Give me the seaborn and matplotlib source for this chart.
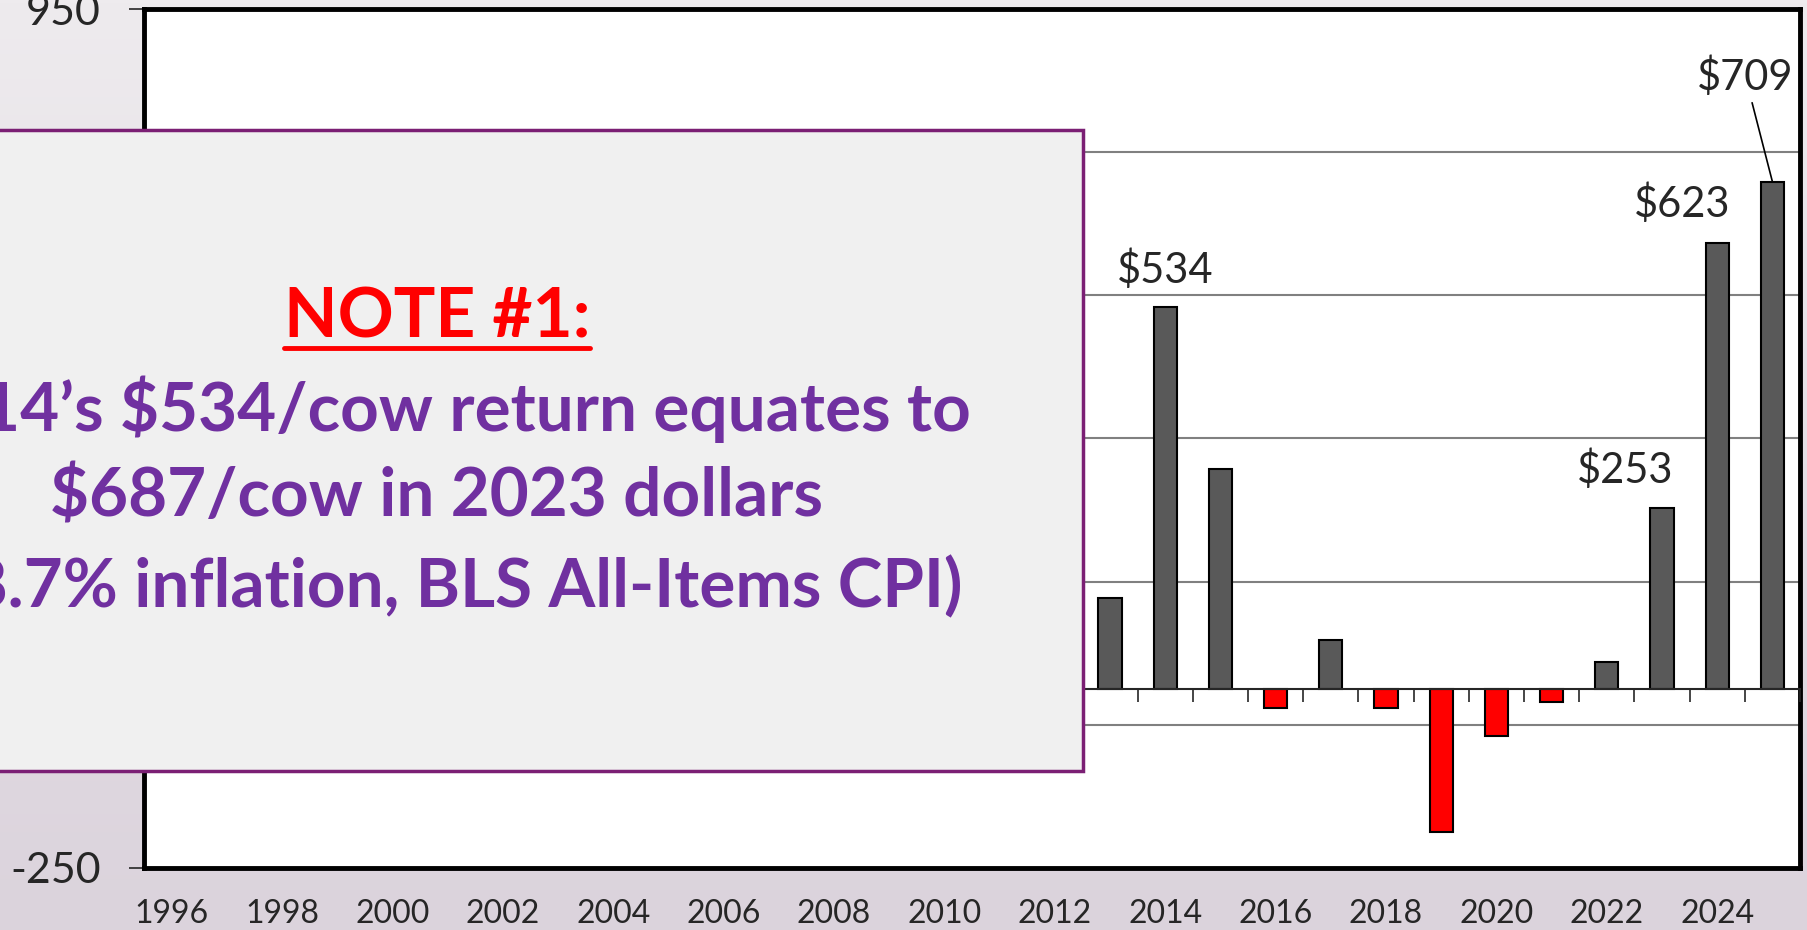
import numpy as np
import pandas as pd
import matplotlib
matplotlib.use("Agg")
import matplotlib.pyplot as plt
import seaborn as sns
from matplotlib.patches import Rectangle
from matplotlib.lines import Line2D
from matplotlib.colors import LinearSegmentedColormap

# categories on the x axis (bars before 2013 sit behind the note box)
years = list(range(1996, 2026))
shown_years = [2013, 2014, 2015, 2016, 2017, 2018, 2019, 2020, 2021, 2022, 2023, 2024, 2025]
returns = [127, 534, 307, -26, 69, -27, -200, -65, -18, 38, 253, 623, 709]
labelled_years = [2014, 2023, 2024, 2025]
y_ticks = [-250, -50, 150, 350, 550, 750, 950]

note_title = "NOTE #1:"
note_lines = ["2014\u2019s $534/cow return equates to",
              "$687/cow in 2023 dollars",
              "(28.7% inflation, BLS All-Items CPI)"]

sns.set_style("white")
plt.rcParams['font.family'] = ['Lato', 'DejaVu Sans']

fig = plt.figure(figsize=(18.07, 9.30), dpi=100)

# soft lavender-grey background
bg = fig.add_axes([0, 0, 1, 1], zorder=-10)
grad = np.linspace(0, 1, 256).reshape(-1, 1)
cmap = LinearSegmentedColormap.from_list("bg", ["#EEEBEE", "#DBD3DC"])
bg.imshow(grad, aspect='auto', cmap=cmap, extent=[0, 1, 0, 1], origin='upper')
bg.axis('off')

ax = fig.add_axes([0.0797, 0.0667, 0.9164, 0.9236])
ax.set_facecolor('white')

df = pd.DataFrame({'year': shown_years, 'ret': returns})
df['sign'] = np.where(df['ret'] >= 0, 'pos', 'neg')
sns.barplot(data=df, x='year', y='ret', hue='sign', order=years,
            palette={'pos': '#595959', 'neg': '#FF0000'}, dodge=False,
            saturation=1, width=0.42, edgecolor='black', linewidth=1.5,
            legend=False, ax=ax)

ax.set_xlim(-0.5, len(years) - 0.5)
ax.set_ylim(-250, 950)
ax.set_xlabel('')
ax.set_ylabel('')

xt = [i for i, y in enumerate(years) if y % 2 == 0]
ax.set_xticks(xt)
ax.set_xticklabels([str(years[i]) for i in xt], fontsize=23)
ax.tick_params(axis='x', length=0, pad=22)
ax.set_yticks(y_ticks)
ax.set_yticklabels([str(v) for v in y_ticks], fontsize=31)
ax.tick_params(axis='y', direction='out', length=11, width=1.2, pad=20, left=True)
ax.yaxis.grid(True, color='#808080', lw=1.5)
ax.set_axisbelow(True)
for s in ax.spines.values():
    s.set_color('black')
    s.set_linewidth(3.5)

# zero axis with category ticks
ax2 = ax.twiny()
ax2.set_xlim(ax.get_xlim())
for k in ['top', 'left', 'right']:
    ax2.spines[k].set_visible(False)
ax2.spines['bottom'].set_position(('data', 0))
ax2.spines['bottom'].set_linewidth(1.5)
ax2.xaxis.set_ticks_position('bottom')
ax2.set_xticks(np.arange(len(years) + 1) - 0.5)
ax2.tick_params(axis='x', direction='out', length=9, width=1.2,
                labelbottom=False, labeltop=False)

# value labels
offsets = {2014: (0, 37), 2023: (-37, 38), 2024: (-35, 39), 2025: (-27, 105)}
for yr in labelled_years:
    v = returns[shown_years.index(yr)]
    i = years.index(yr)
    dx, dy = offsets[yr]
    kw = {}
    if yr == 2025:
        kw['arrowprops'] = dict(arrowstyle='-', color='black', lw=1.2,
                                shrinkA=2, shrinkB=0)
    ax.annotate(f"${v}", xy=(i, v), xytext=(dx, dy), textcoords='offset pixels',
                ha='center', va='center', fontsize=30, **kw)

# note box
box = Rectangle((-0.01, 0.171), 0.6093, 0.689, transform=fig.transFigure,
                facecolor='#F0F0F0', edgecolor='#7B1F74', lw=2.5, zorder=10)
fig.patches.append(box)
cx = 437 / 1807
t = fig.text(cx, 0.658, note_title, ha='center', va='center', color='#FF0000',
             fontsize=50, fontweight='bold', zorder=11)
for yy, line in zip([0.560, 0.465, 0.368], note_lines):
    fig.text(cx, yy, line, ha='center', va='center', color='#7030A0',
             fontsize=48.5, fontweight='bold', zorder=11)

fig.canvas.draw()
bb = t.get_window_extent()
W, H = fig.bbox.width, fig.bbox.height
uy = (bb.y0 + 2) / H
fig.lines.append(Line2D([bb.x0 / W, bb.x1 / W], [uy, uy], transform=fig.transFigure,
                        color='#FF0000', lw=3.5, zorder=11))

fig.savefig('out.png', dpi=100)
